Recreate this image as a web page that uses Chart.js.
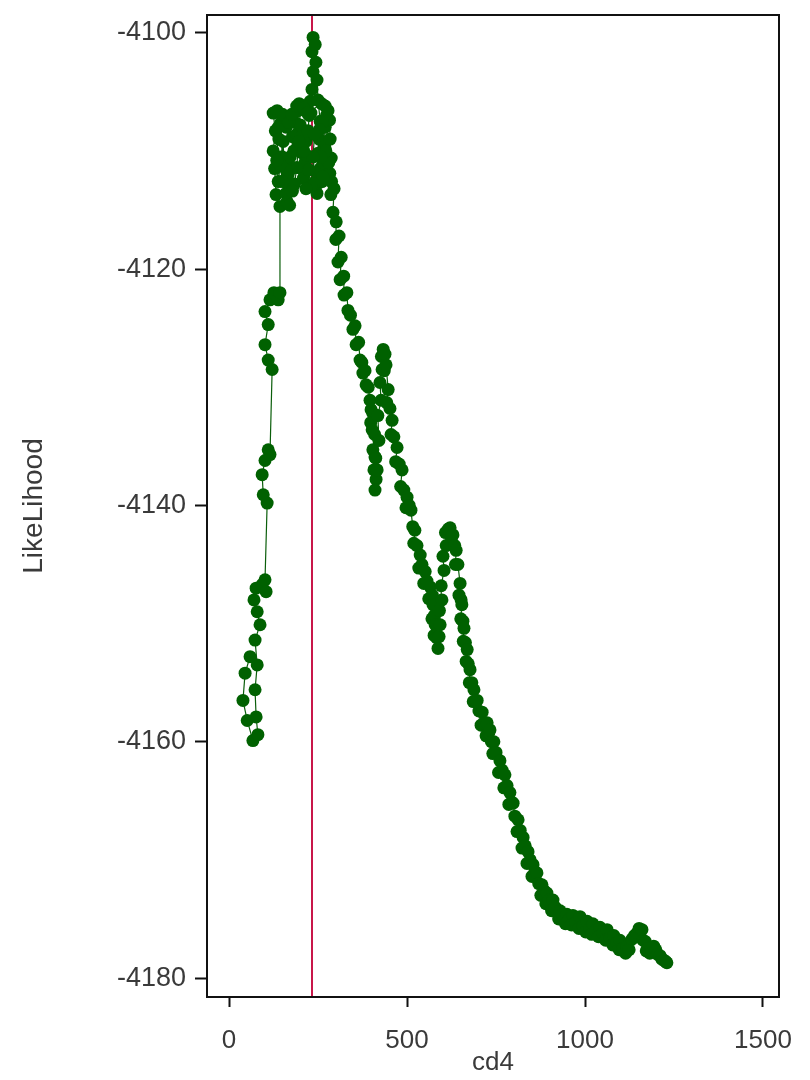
<!DOCTYPE html>
<html>
<head>
<meta charset="utf-8">
<title>cd4 likelihood</title>
<script src="https://cdn.jsdelivr.net/npm/chart.js@4.4.0/dist/chart.umd.min.js"></script>
<style>
  html, body { margin: 0; padding: 0; background: #fff; }
  #wrap { width: 810px; height: 1080px; }
</style>
</head>
<body>
<div id="wrap"><canvas id="likChart" width="810" height="1080"></canvas></div>
<script>
// valores (cd4 vs likelihood)
const cd4Vals = [
  59, 45, 39, 51, 67, 81, 76, 73, 79, 73, 87, 79, 70, 76, 93, 104, 101,
  107, 96, 93, 101, 110, 115,
  121, 110, 101, 110, 101, 115, 126, 138, 143,
  143, 132, 128, 124, 130, 124, 135, 140, 146, 149, 152, 155, 157, 160, 163, 166, 169, 172,
  175, 178, 182, 186, 190, 194, 197, 200, 203, 206, 203, 209, 213, 216, 219, 222, 225, 228,
  230, 233, 236, 233, 236, 242, 244, 247, 250, 256, 253, 250, 246, 242, 247, 252, 256, 261,
  264, 267, 270, 274, 278, 282, 284, 287, 283, 288,
  280, 272, 264, 258, 262, 254, 240, 236, 238, 230, 224, 216, 210, 196, 190, 184, 178, 170,
  160, 150, 144, 138, 134, 138, 150, 160, 168, 176, 190, 210, 220, 260, 270,
  286, 295, 292, 301, 300, 309, 306, 315, 312, 322, 323, 331, 334, 341, 348, 354, 357, 364,
  368, 373, 376, 382, 385, 391, 396, 399, 404, 398, 402, 409, 404, 410, 407, 413, 410, 416,
  412, 421, 418, 427, 424, 430, 428, 433, 438, 436, 441, 447, 443, 452, 458, 455, 463, 472,
  468, 478, 486, 482, 491, 500, 497, 506, 511, 516, 522, 519, 528, 537, 533, 542, 551, 547,
  556, 565, 561, 571, 573, 570, 577, 579, 576, 583, 587, 590, 593, 591, 598, 596, 604, 601,
  610, 608, 616, 621, 626, 629, 634, 638, 636, 643, 649, 646, 652, 654, 651, 657, 660, 658,
  664, 669, 666, 672, 677, 675, 682, 688, 686, 693, 697, 702, 711, 708, 716, 725, 722, 730,
  733, 737, 744, 741, 750, 761, 757, 767, 775, 772, 781, 789, 786, 794, 798, 803, 812, 809,
  818, 826, 823, 832, 840, 837, 846, 854, 851, 859, 865, 870, 879, 876, 885, 893, 890, 899,
  910, 906, 916, 930, 926, 937, 949, 945, 956, 966, 962, 974, 986, 983, 994, 1006, 1002, 1014,
  1022, 1019, 1030, 1042, 1038, 1050, 1062, 1058, 1070, 1081, 1078, 1090, 1098, 1096, 1106,
  1118, 1114, 1124, 1132, 1139, 1146, 1152, 1160, 1163, 1169, 1172, 1177, 1182, 1188, 1193,
  1199, 1204, 1211, 1216, 1222, 1227, 1230
];
const likVals = [
  -4152.8, -4154.2, -4156.5, -4158.2, -4159.9, -4159.4, -4157.9, -4155.6, -4153.5, -4151.4, -4150.1, -4149.0, -4148.0, -4147.0, -4146.7, -4147.3, -4146.3,
  -4139.8, -4139.1, -4137.4, -4136.2, -4135.3, -4135.7,
  -4128.5, -4127.7, -4126.4, -4124.7, -4123.6, -4122.6, -4122.0, -4122.6, -4122.0,
  -4114.7, -4113.7, -4111.5, -4110.0, -4108.3, -4106.8, -4106.6, -4109.0, -4107.6, -4110.5, -4109.2, -4112.5, -4111.0, -4113.6, -4114.3, -4112.0, -4113.0, -4110.5,
  -4111.5, -4108.8, -4110.0, -4107.6, -4108.6, -4106.6, -4106.0, -4107.8, -4108.8, -4110.2, -4111.5, -4112.3, -4111.0, -4109.2, -4110.4, -4108.3, -4107.0, -4105.8,
  -4106.8, -4104.8, -4103.3, -4101.6, -4100.4, -4101.0, -4102.5, -4104.0, -4105.7, -4107.5, -4109.0, -4110.2, -4111.8, -4112.6, -4113.6, -4112.7, -4111.5, -4112.6,
  -4111.0, -4109.6, -4108.0, -4107.0, -4106.6, -4107.4, -4109.0, -4110.6, -4111.9, -4112.6,
  -4111.0, -4110.0, -4112.2, -4110.5, -4107.6, -4108.2, -4108.6, -4110.5, -4112.8, -4113.0, -4111.6, -4113.2, -4110.0, -4109.2, -4111.4, -4112.8, -4113.4, -4114.6,
  -4111.6, -4112.6, -4111.2, -4112.6, -4110.8, -4108.0, -4106.9, -4108.0, -4107.6, -4106.9, -4106.2, -4106.4, -4106.8, -4106.0, -4106.2,
  -4113.7, -4113.2, -4115.2, -4116.0, -4117.5, -4117.2, -4119.4, -4119.0, -4120.9, -4120.6, -4122.2, -4122.0, -4123.5, -4123.9, -4125.1, -4124.8, -4126.4, -4126.2,
  -4127.7, -4127.9, -4128.8, -4128.6, -4129.8, -4130.0, -4131.1, -4131.9, -4132.2, -4133.0, -4133.6, -4134.0, -4135.3, -4135.9, -4137.0, -4137.8, -4138.7, -4137.0,
  -4136.0, -4134.5, -4132.4, -4131.1, -4129.6, -4128.5, -4127.4, -4126.8, -4127.2, -4128.6, -4128.1, -4130.2, -4131.3, -4131.8, -4132.8, -4134.0, -4134.2, -4135.1,
  -4136.3, -4136.5, -4137.0, -4138.4, -4138.7, -4139.3, -4140.2, -4140.0, -4140.4, -4141.8, -4142.1, -4143.2, -4143.4, -4144.2, -4145.3, -4145.0, -4145.6, -4146.6,
  -4146.4, -4146.9, -4147.9, -4147.6, -4148.4, -4149.6, -4149.3, -4150.1, -4151.0, -4151.2, -4152.1, -4151.1, -4150.1, -4148.9, -4148.0, -4146.8, -4145.5, -4144.3,
  -4143.4, -4142.3, -4142.0, -4141.9, -4142.6, -4142.5, -4143.4, -4143.8, -4145.0, -4145.0, -4146.6, -4147.6, -4148.0, -4148.4, -4149.6, -4149.8, -4150.4, -4151.5,
  -4151.6, -4152.2, -4153.2, -4153.4, -4153.9, -4155.0, -4155.0, -4155.6, -4156.6, -4156.6, -4156.5, -4157.4, -4157.5, -4158.6, -4158.4, -4158.4, -4159.5, -4159.2,
  -4159.0, -4160.0, -4160.0, -4161.0, -4160.9, -4161.6, -4162.6, -4162.4, -4162.8, -4163.9, -4163.7, -4164.3, -4165.3, -4165.1, -4165.2, -4166.3, -4166.6, -4167.6,
  -4167.5, -4168.1, -4169.0, -4168.8, -4169.3, -4170.3, -4170.0, -4170.4, -4171.4, -4171.0, -4171.1, -4172.0, -4172.1, -4173.0, -4172.6, -4172.8, -4173.7, -4173.4,
  -4173.4, -4174.3, -4174.0, -4174.3, -4175.0, -4174.6, -4174.6, -4175.4, -4175.0, -4174.7, -4175.5, -4175.3, -4174.8, -4175.8, -4175.6, -4175.2, -4176.1, -4175.8,
  -4175.4, -4176.3, -4176.0, -4175.7, -4176.5, -4176.2, -4175.9, -4176.8, -4176.6, -4176.4, -4177.2, -4177.0, -4176.8, -4177.6, -4177.5,
  -4177.3, -4177.9, -4177.6, -4176.7, -4176.4, -4176.2, -4175.8, -4175.9, -4176.8, -4176.9, -4177.7, -4177.5, -4177.9, -4177.6, -4177.3,
  -4177.6, -4178.0, -4178.1, -4178.4, -4178.5, -4178.6, -4178.7
];

const refLineCd4 = 233; // linea roja vertical
const xTickVals = [0, 500, 1000, 1500];
const yTickVals = [-4180, -4160, -4140, -4120, -4100];
const xRange = [-62, 1545];
const yRange = [-4181.6, -4098.5];

const points = cd4Vals.map((v, i) => ({ x: v, y: likVals[i] }));

// marco completo alrededor del area del grafico
const framePlugin = {
  id: 'frame',
  afterDraw(chart) {
    const { ctx, chartArea: a } = chart;
    ctx.save();
    ctx.strokeStyle = '#111';
    ctx.lineWidth = 2;
    ctx.strokeRect(a.left, a.top, a.right - a.left, a.bottom - a.top);
    ctx.restore();
  }
};

const fontFam = "'Liberation Sans', Arial, sans-serif";
const labelColor = '#3a3a3a';

new Chart(document.getElementById('likChart').getContext('2d'), {
  type: 'scatter',
  data: {
    datasets: [
      {
        label: 'LikeLihood',
        data: points,
        showLine: true,
        borderColor: '#0b5e0b',
        borderWidth: 1.2,
        backgroundColor: '#006100',
        pointRadius: 6.5,
        pointBorderWidth: 0,
        order: 1
      },
      {
        label: 'ref',
        data: [{ x: refLineCd4, y: yRange[0] }, { x: refLineCd4, y: yRange[1] }],
        showLine: true,
        borderColor: '#c8174a',
        borderWidth: 2,
        pointRadius: 0,
        order: 2
      }
    ]
  },
  options: {
    responsive: false,
    animation: false,
    layout: { padding: { top: 15, right: 31, bottom: 0, left: 0 } },
    plugins: { legend: { display: false }, tooltip: { enabled: false } },
    scales: {
      x: {
        type: 'linear',
        min: xRange[0],
        max: xRange[1],
        afterBuildTicks: axis => { axis.ticks = xTickVals.map(v => ({ value: v })); },
        afterFit: scale => { scale.height = 83; scale.paddingLeft = 0; scale.paddingRight = 0; },
        grid: { drawOnChartArea: false, drawTicks: true, tickLength: 10, tickColor: '#111', tickWidth: 2 },
        border: { display: true, color: '#111', width: 2 },
        ticks: { font: { family: fontFam, size: 26 }, color: labelColor, padding: 18, maxRotation: 0, callback: v => String(v) },
        title: { display: true, text: 'cd4', font: { family: fontFam, size: 26 }, color: labelColor, padding: { top: 0, bottom: 2 } }
      },
      y: {
        type: 'linear',
        min: yRange[0],
        max: yRange[1],
        afterBuildTicks: axis => { axis.ticks = yTickVals.map(v => ({ value: v })); },
        afterFit: scale => { scale.width = 207; scale.paddingTop = 0; scale.paddingBottom = 0; },
        grid: { drawOnChartArea: false, drawTicks: true, tickLength: 12, tickColor: '#111', tickWidth: 2 },
        border: { display: true, color: '#111', width: 2 },
        ticks: { font: { family: fontFam, size: 27 }, color: labelColor, padding: 9, callback: v => String(v) },
        title: { display: true, text: 'LikeLihood', font: { family: fontFam, size: 28 }, color: labelColor, padding: { top: 17, bottom: 0 } }
      }
    }
  },
  plugins: [framePlugin]
});
</script>
</body>
</html>
